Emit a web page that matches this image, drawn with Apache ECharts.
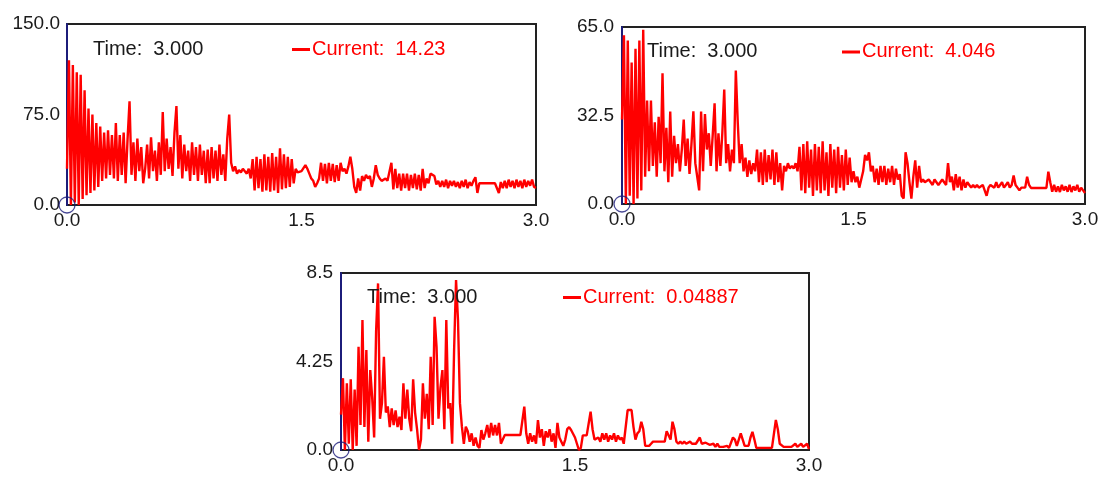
<!DOCTYPE html>
<html>
<head>
<meta charset="utf-8">
<script src="https://cdn.jsdelivr.net/npm/echarts@6/dist/echarts.min.js"></script>
<style>
html,body{margin:0;padding:0;background:#fff;}
#chart{width:1102px;height:478px;}
</style>
</head>
<body>
<div id="chart"></div>
<script>
// ---- data ----
const dt = 0.0125; // sampling step (s)
const xTicks = ['0.0', '1.5', '3.0'];
const yTicks1 = ['0.0', '75.0', '150.0'];
const yTicks2 = ['0.0', '32.5', '65.0'];
const yTicks3 = ['0.0', '4.25', '8.5'];
const timeLabel = 'Time:  3.000';
const legendLabels = ['Current:  14.23', 'Current:  4.046', 'Current:  0.04887'];

const current1 = [
  30,120,0,116,2,110,0,108,
  5,95,8,80,10,75,12,68,
  15,65,20,60,22,62,25,58,
  22,68,20,58,25,60,18,55,
  86,25,52,20,55,28,48,18,
  30,50,22,56,28,45,20,52,
  25,77,28,55,30,48,24,60,
  82,30,58,22,50,28,45,20,
  52,25,48,20,50,25,45,18,
  46,18,48,22,45,20,50,25,
  42,20,55,75,35,28,32,26,
  29,27,30,28,26,30,22,38,
  12,40,14,38,11,42,12,40,
  11,43,12,40,10,47,13,42,
  14,40,15,38,18,30,27,26,
  28,27,33,30,26,22,20,15,
  18,22,35,20,34,18,35,20,
  34,19,33,20,35,28,30,26,
  32,40,30,15,10,22,12,24,
  20,25,22,24,15,22,33,25,
  22,20,21,22,20,21,35,13,
  30,14,26,12,26,14,26,12,
  25,14,26,13,25,12,30,14,
  22,18,26,25,24,17,20,15,
  20,15,21,14,20,16,20,15,
  19,14,20,15,21,14,19,16,
  20,23,10,18,18,18,18,18,
  18,18,18,18,18,10,19,14,
  20,14,21,15,20,14,21,15,
  20,14,21,15,20,16,21,15,
  14.23
];

const current2 = [
  31,62,0,60,3,52,0,57,
  2,60,5,64,10,38,12,38,
  14,30,10,32,15,48,12,28,
  8,34,10,25,15,22,12,20,
  31,14,24,11,22,34,15,10,
  5,34,12,33,20,26,14,25,
  37,12,26,14,26,42,15,22,
  12,20,15,49,30,15,22,12,
  17,10,16,11,15,12,20,8,
  19,7,20,8,18,9,20,7,
  19,8,15,5,14,12,15,13,
  14,13,15,12,21,5,22,4,
  23,6,20,3,22,5,21,4,
  23,5,19,3,22,6,20,4,
  21,6,18,5,20,7,17,8,
  12,8,10,6,9,12,18,16,
  19,12,14,8,13,7,14,8,
  14,7,13,8,14,7,13,9,
  11,3,2,19,15,8,2,10,
  16,6,14,8,9,8,8,9,
  8,7,9,8,7,8,9,8,
  7,15,8,10,5,11,6,10,
  5,9,6,8,7,6,7,6,
  7,6,6,7,5,3,6,7,
  7,6,8,6,7,8,6,7,
  8,6,7,10.5,7,6,5,6,
  6,6,10,7,5.9,5.9,5.9,5.9,
  5.9,5.9,5.9,5.9,5.9,11.9,8,4.5,
  7,4.5,6.5,4.4,7,5,6.5,4.5,
  7,4.4,6.5,5,7,4.5,6,5,
  4.046
];

const current3 = [
  1.7,3.45,0,3.2,0.3,3.4,0,2.9,
  0.2,4.96,1.2,6.24,1.1,4.8,0.4,3.84,
  2.5,0.6,5.7,8.0,1.5,2.25,4.48,1.8,
  2.1,1.1,2.0,1.2,1.9,1.1,1.6,0.96,
  3.2,1.5,2.9,1.5,0.9,3.4,1.8,1.0,
  0,0.5,3.2,1.5,2.7,1.0,4.48,1.2,
  6.4,4.96,1.5,3.0,3.84,1.0,6.24,2.0,
  2.25,0.3,4.8,8.16,6.24,2.25,1.12,0.3,
  1.12,0.9,0.4,0.8,0.2,0.6,0.2,0.1,
  0.96,0.5,0.8,1.2,0.6,1.3,0.7,1.2,
  0.7,1.3,0.3,0.3,0.72,0.72,0.72,0.72,
  0.72,0.72,0.72,0.72,0.72,0.72,2.08,0.8,
  0.3,0.8,0.4,0.7,0.3,1.44,0.6,1.0,
  0.2,0.9,0.6,1.0,0.4,0.8,0.1,1.3,
  0.6,0.4,0.2,0.5,1.0,1.1,0.96,1.05,
  0.6,0.3,0.0,0.1,0.7,0.7,0.7,0.75,
  1.84,1.0,0.5,0.5,0.6,0.4,0.8,0.5,
  0.8,0.4,0.7,0.5,0.8,0.4,0.7,0.5,
  0.6,0.3,0.3,1.92,1.92,1.92,1.1,0.5,
  0.8,0.9,1.36,1.0,0.2,0.2,0.2,0.3,
  0.4,0.4,0.4,0.4,0.4,0.4,0.4,0.9,
  0.9,0.5,1.36,1.0,0.4,0.3,0.4,0.3,
  0.4,0.3,0.35,0.4,0.3,0.35,0.3,0.35,
  0.6,0.3,0.3,0.35,0.3,0.25,0.2,0.3,
  0.15,0.3,0.15,0.1,0.15,0.1,0.2,0.1,
  0.15,0.6,0.5,0.2,0.15,0.8,0.5,0.2,
  0.2,0.2,0.6,0.87,0.5,0.1,0.1,0.1,
  0.1,0.1,0.1,0.1,0.1,0.1,0.1,1.44,
  1.0,0.3,0.3,0.15,0.15,0.15,0.15,0.15,
  0.15,0.3,0.15,0.15,0.3,0.15,0.15,0.3,
  0.05
];

// ---- chart ----
const FONT = '"Liberation Sans", Arial, sans-serif';
const TXT = '#1a1a1a';
const RED = '#ff0000';
const NAVY = '#1c1c7a';

const panels = [
  {left: 67, top: 24, width: 469, height: 181, max: 150, interval: 75, ticks: yTicks1, data: current1, ymargin: 7,
   timeXY: [93, 49], legXY: [292, 49]},
  {left: 622, top: 27, width: 463, height: 177, max: 65, interval: 32.5, ticks: yTicks2, data: current2, ymargin: 8,
   timeXY: [647, 51.5], legXY: [842, 51.5]},
  {left: 341, top: 273, width: 468, height: 177, max: 8.5, interval: 4.25, ticks: yTicks3, data: current3, ymargin: 8,
   timeXY: [367, 297], legXY: [563, 297]}
];

const grid = [], xAxis = [], yAxis = [], series = [], graphic = [];
panels.forEach((p, k) => {
  grid.push({left: p.left, top: p.top, width: p.width, height: p.height,
    show: true, borderColor: '#222', borderWidth: 2, backgroundColor: '#fff', containLabel: false});
  xAxis.push({type: 'value', gridIndex: k, min: 0, max: 3, interval: 1.5,
    axisLine: {show: false}, axisTick: {show: false}, splitLine: {show: false},
    axisLabel: {margin: 6, color: TXT, fontFamily: FONT, fontSize: 19,
      formatter: (v, i) => xTicks[i]}});
  yAxis.push({type: 'value', gridIndex: k, min: 0, max: p.max, interval: p.interval,
    axisLine: {show: true, onZero: false, lineStyle: {color: NAVY, width: 2}},
    axisTick: {show: false}, splitLine: {show: false},
    axisLabel: {margin: p.ymargin, color: TXT, fontFamily: FONT, fontSize: 19,
      formatter: (v, i) => p.ticks[i]}});
  series.push({type: 'line', name: legendLabels[k], xAxisIndex: k, yAxisIndex: k,
    data: p.data.map((v, i) => [i * dt, v]),
    showSymbol: false, symbol: 'none', clip: true,
    lineStyle: {color: RED, width: 2.4}, z: 3});
  series.push({type: 'scatter', xAxisIndex: k, yAxisIndex: k, data: [[0, 0]],
    symbol: 'circle', symbolSize: 16, clip: false, silent: true, z: 4,
    itemStyle: {color: 'rgba(0,0,0,0)', borderColor: NAVY, borderWidth: 1.3}});
  graphic.push({type: 'text', x: p.timeXY[0], y: p.timeXY[1], z: 10,
    style: {text: timeLabel, fill: TXT, font: '20px ' + FONT, verticalAlign: 'middle', align: 'left'}});
  graphic.push({type: 'rect', x: p.legXY[0], y: p.legXY[1] - 1, z: 10,
    shape: {width: 18, height: 3}, style: {fill: RED}});
  graphic.push({type: 'text', x: p.legXY[0] + 20, y: p.legXY[1], z: 10,
    style: {text: legendLabels[k], fill: RED, font: '20px ' + FONT, verticalAlign: 'middle', align: 'left'}});
});

const chart = echarts.init(document.getElementById('chart'), null, {renderer: 'canvas'});
chart.setOption({
  animation: false,
  backgroundColor: '#fff',
  grid, xAxis, yAxis, series, graphic
});
</script>
</body>
</html>
